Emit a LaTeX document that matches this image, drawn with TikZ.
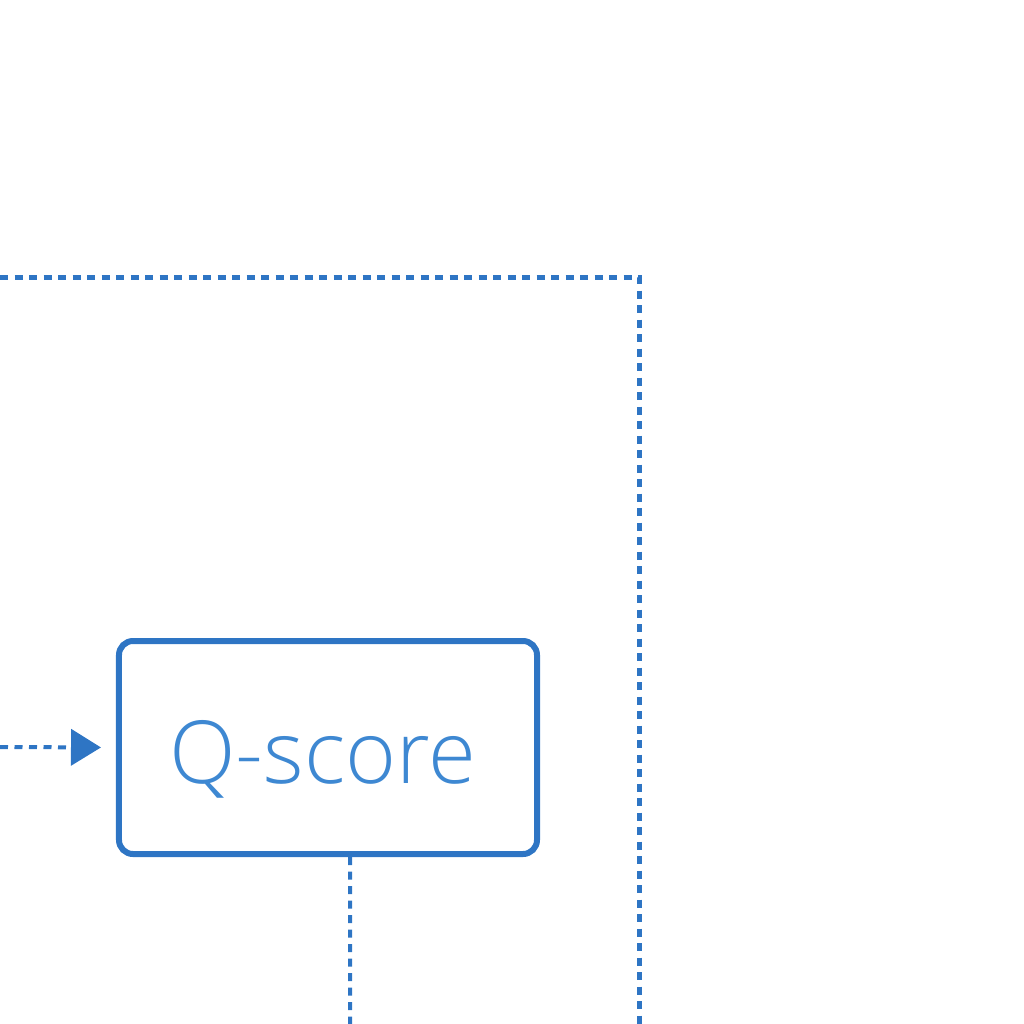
\documentclass[tikz,border=0pt]{standalone}
\usepackage{fontspec}
\setmainfont{Open Sans}[UprightFont=* Light]
\usetikzlibrary{arrows.meta}
\definecolor{boxblue}{RGB}{46,117,196}
\definecolor{textblue}{RGB}{62,136,210}
\tikzset{
  dotline/.style={draw=boxblue, dash pattern=on 8bp off 6.5bp},
  qbox/.style={draw=boxblue, line width=6bp, rounded corners=14bp, rectangle,
    minimum width=418bp, minimum height=213bp, inner sep=0pt,
    text=textblue, font=\fontsize{87bp}{100bp}\selectfont},
}
\begin{document}
\begin{tikzpicture}[x=1bp,y=-1bp]
\useasboundingbox (0,0) rectangle (1024,1024);
\node[qbox] (q) at (328,747.5) {\hspace*{-10bp}\raisebox{-35.5bp}[0pt][0pt]{Q-score}};
\coordinate (a) at (0,747);
\coordinate (tl) at (0,277);
\coordinate (tr) at (639,277);
\coordinate (br) at (639,1024);
\coordinate (b) at (350,1024);
\draw[dotline, line width=5bp] (tl) -- (tr) -- (br);
\draw[dotline, line width=4bp, -{Triangle[length=30bp,width=36bp]}, shorten >=15bp] (a) -- (q.west);
\draw[dotline, line width=4bp] ([xshift=22bp]q.south) -- (b);
\end{tikzpicture}
\end{document}
